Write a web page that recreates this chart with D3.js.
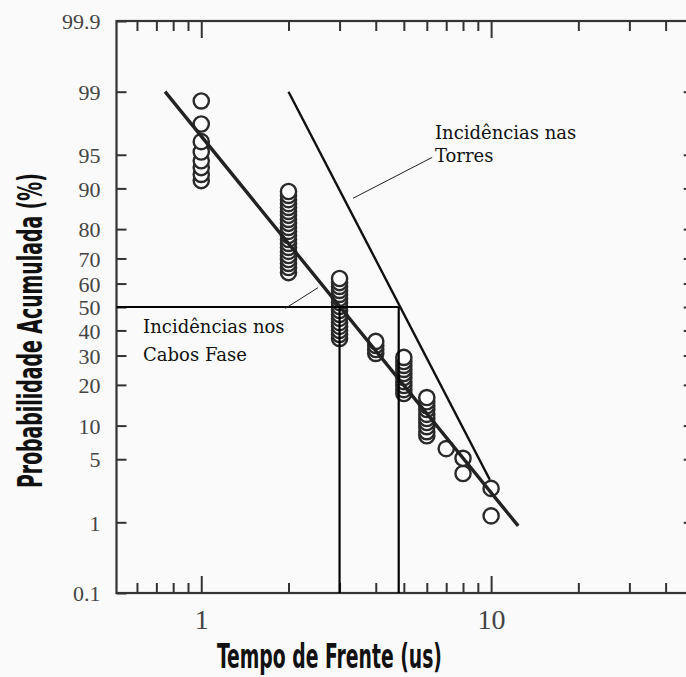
<!DOCTYPE html>
<html><head><meta charset="utf-8">
<script src="https://cdn.jsdelivr.net/npm/d3@7"></script>
<style>html,body{margin:0;padding:0;background:#fafafa;} svg{display:block;}</style>
</head><body>
<svg id="chart" width="686" height="677"></svg>
<script>
// ---------- data ----------
const yTickValues = [0.1, 1, 5, 10, 20, 30, 40, 50, 60, 70, 80, 90, 95, 99, 99.9];
const yTickLabels = ["0.1", "1", "5", "10", "20", "30", "40", "50", "60", "70", "80", "90", "95", "99", "99.9"];
const xMajorTicks = [1, 10];
const xTickLabels = ["1", "10"];
const xMinorTicks = [0.6, 0.7, 0.8, 0.9, 2, 3, 4, 5, 6, 7, 8, 9, 20, 30, 40];

// tempo de frente (us) of each group of points, and cumulative probabilities (%)
const tempos = [1, 2, 3, 4, 5, 6, 7, 8, 10];
const probabilidades = [
  [98.7, 97.6, 96.3, 95.3, 94.3, 93.4, 92.4, 91.4],
  [89.4, 88.6, 87.7, 86.8, 85.9, 84.9, 83.9, 82.8, 81.7, 80.5, 79.3, 78.0, 76.7, 75.4, 74.0, 72.6, 71.1, 69.6, 68.1, 66.5, 64.5],
  [62.1, 60.4, 58.8, 57.1, 55.4, 53.7, 51.9, 50.2, 48.5, 46.8, 45.1, 43.3, 41.7, 40.0, 38.3, 36.7],
  [35.5, 33.9, 32.3, 30.8],
  [29.3, 27.8, 26.4, 25.0, 23.6, 22.3, 21.0, 19.8, 18.6, 17.5],
  [16.4, 15.3, 14.3, 13.4, 12.3, 11.4, 10.6, 9.8, 8.9, 8.2],
  [6.3],
  [5.1, 3.6],
  [2.5, 1.2]
];

// fitted lines (endpoints in data units)
const retaCabosX = [0.75, 12.4];
const retaCabosY = [99, 0.9];
const retaTorresX = [2.0, 9.9];
const retaTorresY = [99, 3.1];
// medians (50 %)
const medianaCabos = 3.0;
const medianaTorres = 4.8;

// annotations (data units)
const anotTorres = {linhas: ["Incidências nas", "Torres"], x: 6.4, y: [96.5, 94.1], leader: [[3.34, 88.0], [6.26, 94.7]]};
const anotCabos = {linhas: ["Incidências nos", "Cabos Fase"], x: 0.63, y: [38.9, 28.0], leader: [[1.95, 49.4], [2.53, 58.3]]};

// ---------- helpers ----------
function probit(p) {
  const a = [-3.969683028665376e+01, 2.209460984245205e+02, -2.759285104469687e+02, 1.383577518672690e+02, -3.066479806614716e+01, 2.506628277459239e+00];
  const b = [-5.447609879822406e+01, 1.615858368580409e+02, -1.556989798598866e+02, 6.680131188771972e+01, -1.328068155288572e+01];
  const c = [-7.784894002430293e-03, -3.223964580411365e-01, -2.400758277161838e+00, -2.549732539343734e+00, 4.374664141464968e+00, 2.938163982698783e+00];
  const d = [7.784695709041462e-03, 3.224671290700398e-01, 2.445134137142996e+00, 3.754408661907416e+00];
  const pl = 0.02425, ph = 1 - pl;
  let q, r;
  if (p < pl) { q = Math.sqrt(-2 * Math.log(p)); return (((((c[0]*q+c[1])*q+c[2])*q+c[3])*q+c[4])*q+c[5]) / ((((d[0]*q+d[1])*q+d[2])*q+d[3])*q+1); }
  if (p <= ph) { q = p - 0.5; r = q*q; return (((((a[0]*r+a[1])*r+a[2])*r+a[3])*r+a[4])*r+a[5])*q / (((((b[0]*r+b[1])*r+b[2])*r+b[3])*r+b[4])*r+1); }
  q = Math.sqrt(-2 * Math.log(1 - p));
  return -(((((c[0]*q+c[1])*q+c[2])*q+c[3])*q+c[4])*q+c[5]) / ((((d[0]*q+d[1])*q+d[2])*q+d[3])*q+1);
}

// ---------- scales ----------
const pLeft = 116.5, pRight = 693.7, pTop = 21, pBottom = 593;
const x = d3.scaleLog().domain([0.51, 50]).range([pLeft, pRight]);
const yZ = d3.scaleLinear().domain([probit(0.001), probit(0.999)]).range([pBottom, pTop]);
const y = v => yZ(probit(v / 100));

const svg = d3.select("#chart");
const axisColor = "#333";

// ---------- axes ----------
function styleAxis(g) {
  g.select(".domain").remove();
  g.selectAll(".tick line").attr("stroke", axisColor).attr("stroke-width", 2);
}
// left
svg.append("g").attr("transform", `translate(${pLeft},0)`)
  .call(d3.axisLeft(yZ).tickValues(yTickValues.map(v => probit(v / 100)))
    .tickFormat((d, i) => yTickLabels[i]).tickSize(-10).tickPadding(16))
  .call(styleAxis)
  .call(g => g.selectAll("text").attr("font-family", "Liberation Serif, Times New Roman, serif")
    .attr("font-size", 22).attr("fill", "#444").attr("dy", "0.35em"));
// right (ticks only)
svg.append("g").attr("transform", `translate(${pRight},0)`)
  .call(d3.axisRight(yZ).tickValues(yTickValues.slice(1, -1).map(v => probit(v / 100)))
    .tickFormat("").tickSize(-10))
  .call(styleAxis);
// bottom
svg.append("g").attr("transform", `translate(0,${pBottom})`)
  .call(d3.axisBottom(x).tickValues(xMajorTicks).tickFormat((d, i) => xTickLabels[i]).tickSize(-17).tickPadding(16))
  .call(styleAxis)
  .call(g => g.selectAll("text").attr("font-family", "Liberation Serif, Times New Roman, serif")
    .attr("font-size", 28).attr("fill", "#444"));
svg.append("g").attr("transform", `translate(0,${pBottom})`)
  .call(d3.axisBottom(x).tickValues(xMinorTicks).tickFormat("").tickSize(-10))
  .call(styleAxis);
// top
svg.append("g").attr("transform", `translate(0,${pTop})`)
  .call(d3.axisTop(x).tickValues(xMajorTicks).tickFormat("").tickSize(-17))
  .call(styleAxis);
svg.append("g").attr("transform", `translate(0,${pTop})`)
  .call(d3.axisTop(x).tickValues(xMinorTicks).tickFormat("").tickSize(-10))
  .call(styleAxis);

// frame
svg.append("rect").attr("x", pLeft).attr("y", pTop).attr("width", pRight - pLeft).attr("height", pBottom - pTop)
  .attr("fill", "none").attr("stroke", axisColor).attr("stroke-width", 2.2);

// ---------- points ----------
const pontos = [];
tempos.forEach((t, i) => probabilidades[i].forEach(p => pontos.push({t, p})));
pontos.sort((a, b) => a.p - b.p); // lower first so upper circles sit on top
svg.append("g").selectAll("circle").data(pontos).join("circle")
  .attr("cx", d => x(d.t)).attr("cy", d => y(d.p)).attr("r", 7.6)
  .attr("fill", "#fdfdfd").attr("stroke", "#2a2a2a").attr("stroke-width", 2.4);

// ---------- lines ----------
const line = d3.line().x(d => x(d[0])).y(d => y(d[1]));
svg.append("path").attr("d", line(retaCabosX.map((v, i) => [v, retaCabosY[i]])))
  .attr("stroke", "#222").attr("stroke-width", 3.4).attr("fill", "none");
svg.append("path").attr("d", line(retaTorresX.map((v, i) => [v, retaTorresY[i]])))
  .attr("stroke", "#111").attr("stroke-width", 2.4).attr("fill", "none");
// 50% reference
svg.append("path").attr("d", line([[0.51, 50], [medianaTorres, 50]]))
  .attr("stroke", "#000").attr("stroke-width", 2.2).attr("fill", "none");
[medianaCabos, medianaTorres].forEach(m => {
  svg.append("path").attr("d", line([[m, 50], [m, 0.1]]))
    .attr("stroke", "#000").attr("stroke-width", 2.2).attr("fill", "none");
});

// ---------- annotations ----------
[anotTorres, anotCabos].forEach(a => {
  svg.append("path").attr("d", line(a.leader)).attr("stroke", "#222").attr("stroke-width", 1).attr("fill", "none");
  a.linhas.forEach((txt, i) => {
    svg.append("text").attr("x", x(a.x)).attr("y", y(a.y[i]))
      .attr("font-family", "DejaVu Serif, serif").attr("font-size", 18).attr("fill", "#111")
      .text(txt);
  });
});

// ---------- axis titles (condensed: horizontal scale fitted to target width) ----------
function condensedTitle(txt, tx, ty, rot, targetWidth, size) {
  const t = svg.append("text")
    .attr("font-family", "Liberation Sans Narrow, DejaVu Sans Condensed, sans-serif")
    .attr("font-weight", "bold").attr("font-size", size).attr("fill", "#111")
    .text(txt);
  const L = t.node().getComputedTextLength();
  const sx = targetWidth / L;
  t.attr("transform", `translate(${tx},${ty}) rotate(${rot}) scale(${sx},1)`);
}
condensedTitle("Tempo de Frente (us)", 217, 668, 0, 225, 33);
condensedTitle("Probabilidade Acumulada (%)", 42, 488, -90, 315, 33);
</script>
</body></html>
